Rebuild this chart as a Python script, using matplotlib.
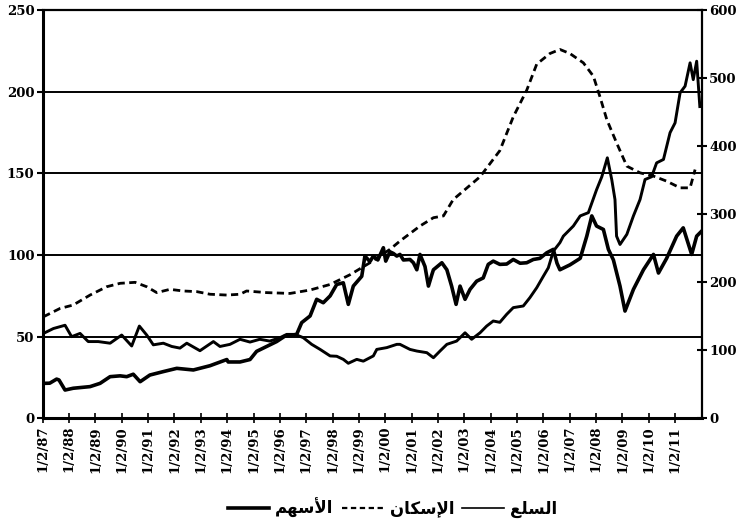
import matplotlib
matplotlib.use('Agg')
import matplotlib.pyplot as plt
from matplotlib.lines import Line2D
import numpy as np

### data (decimal years, left-axis units)
stocks_t = [1987.11, 1987.35, 1987.61, 1987.70, 1987.93, 1988.24, 1988.88, 1989.26, 1989.64, 1990.02,
            1990.27, 1990.52, 1990.78, 1991.15, 1991.66, 1992.17, 1992.80, 1993.43, 1994.07, 1994.12,
            1994.57, 1994.95, 1995.20, 1995.58, 1995.96, 1996.28, 1996.72, 1996.91, 1997.23, 1997.48,
            1997.73, 1997.99, 1998.24, 1998.49, 1998.68, 1998.87, 1999.19, 1999.31, 1999.50, 1999.63,
            1999.80, 2000.01, 2000.10, 2000.26, 2000.39, 2000.52, 2000.64, 2000.77, 2001.02, 2001.15,
            2001.28, 2001.40, 2001.59, 2001.72, 2001.85, 2001.91, 2002.23, 2002.42, 2002.60, 2002.77,
            2002.92, 2003.11, 2003.30, 2003.55, 2003.80, 2003.99, 2004.18, 2004.43, 2004.69, 2004.94,
            2005.20, 2005.45, 2005.70, 2005.95, 2006.21, 2006.46, 2006.60, 2006.71, 2006.90, 2007.09,
            2007.48, 2007.73, 2007.92, 2008.10, 2008.36, 2008.55, 2008.74, 2008.99, 2009.18, 2009.50,
            2009.88, 2010.26, 2010.45, 2010.76, 2011.14, 2011.39, 2011.71, 2011.90, 2012.09]
stocks = [21.4, 21.5, 24.0, 23.5, 17.3, 18.4, 19.4, 21.4, 25.5, 26.0,
          25.5, 27.0, 22.4, 26.5, 28.6, 30.6, 29.6, 32.2, 36.0, 34.5,
          34.5, 36.0, 41.0, 44.0, 47.0, 50.4, 51.4, 58.6, 62.7, 72.9,
          70.8, 75.0, 82.0, 83.0, 69.8, 81.0, 87.0, 99.4, 96.0, 99.4,
          97.0, 104.5, 96.3, 102.0, 101.0, 99.4, 100.4, 97.0, 97.3, 95.3,
          91.0, 100.4, 93.0, 81.0, 88.0, 91.0, 95.3, 91.0, 81.0, 69.8,
          81.0, 72.9, 79.0, 84.0, 86.0, 94.3, 96.3, 94.3, 94.5, 97.3,
          95.0, 95.3, 97.3, 98.0, 101.4, 103.5, 95.0, 91.0, 92.5, 94.0,
          98.0, 111.6, 124.0, 117.8, 115.7, 103.5, 97.0, 81.0, 65.7, 79.0,
          91.0, 100.4, 89.0, 98.0, 111.6, 116.7, 100.4, 111.6, 114.7]

commod_t = [1987.11, 1987.49, 1987.93, 1988.18, 1988.50, 1988.81, 1989.19, 1989.64, 1990.08, 1990.46,
            1990.75, 1991.03, 1991.28, 1991.66, 1991.98, 1992.29, 1992.55, 1993.05, 1993.56, 1993.81,
            1994.19, 1994.57, 1994.95, 1995.32, 1995.70, 1996.09, 1996.34, 1996.66, 1996.97, 1997.29,
            1997.61, 1997.99, 1998.24, 1998.49, 1998.68, 1999.00, 1999.25, 1999.63, 1999.76, 2000.14,
            2000.52, 2000.64, 2001.02, 2001.28, 2001.66, 2001.91, 2002.16, 2002.42, 2002.79, 2003.11,
            2003.36, 2003.68, 2003.93, 2004.18, 2004.43, 2004.69, 2004.94, 2005.32, 2005.57, 2005.83,
            2006.08, 2006.27, 2006.46, 2006.71, 2006.84, 2007.22, 2007.48, 2007.79, 2008.10, 2008.30,
            2008.51, 2008.68, 2008.80, 2008.86, 2008.99, 2009.25, 2009.50, 2009.75, 2009.94, 2010.19,
            2010.38, 2010.64, 2010.89, 2011.08, 2011.27, 2011.46, 2011.65, 2011.77, 2011.90, 2012.02]
commod = [52.0, 55.0, 57.0, 50.0, 52.0, 47.0, 47.0, 46.0, 51.0, 44.3,
          56.5, 51.0, 45.0, 46.0, 44.0, 43.0, 46.0, 41.4, 47.0, 44.0,
          45.3, 48.4, 46.7, 48.4, 47.3, 49.4, 51.4, 51.4, 49.4, 45.3,
          42.2, 38.2, 38.0, 36.1, 33.7, 36.1, 35.0, 38.2, 42.2, 43.3,
          45.3, 45.3, 42.2, 41.2, 40.2, 37.1, 41.2, 45.3, 47.3, 52.4,
          48.4, 52.4, 56.5, 59.6, 58.8, 63.7, 67.8, 68.8, 73.9, 80.0,
          87.0, 92.2, 102.4, 107.6, 111.6, 117.8, 124.0, 126.0, 140.0, 148.0,
          159.6, 146.0, 134.0, 111.6, 106.5, 112.7, 124.0, 134.0, 146.3, 148.0,
          156.5, 158.6, 175.0, 181.0, 199.4, 203.5, 217.8, 207.5, 218.8, 191.0]

housing_t = [1987.11, 1987.74, 1988.24, 1988.88, 1989.51, 1990.02, 1990.59, 1991.03, 1991.41, 1991.91,
             1992.42, 1992.93, 1993.43, 1994.07, 1994.57, 1994.82, 1995.58, 1996.47, 1997.23, 1997.99,
             1998.75, 1999.50, 2000.26, 2000.64, 2001.40, 2001.91, 2002.29, 2002.66, 2003.68, 2004.43,
             2004.94, 2005.45, 2005.83, 2006.33, 2006.71, 2007.09, 2007.60, 2007.98, 2008.23, 2008.49,
             2008.86, 2009.25, 2009.75, 2010.26, 2010.76, 2011.27, 2011.65, 2011.84]
housing = [62.2, 67.3, 69.4, 75.5, 80.6, 82.7, 83.3, 80.6, 77.0, 79.0,
           78.0, 77.6, 76.0, 75.5, 76.0, 78.0, 77.0, 76.5, 78.6, 82.0,
           88.0, 95.3, 103.5, 108.6, 117.8, 122.9, 124.0, 134.0, 148.0, 164.0,
           184.7, 201.0, 217.0, 223.5, 226.0, 223.5, 217.8, 209.6, 197.0, 183.0,
           168.8, 154.5, 150.4, 148.4, 145.3, 141.2, 141.2, 152.4]

tick_years = [1987.083 + k for k in range(25)]
tick_labels = ['1/2/%02d' % (y % 100) for y in range(1987, 2012)]

# legend labels (Arabic presentation forms, laid out left-to-right)
lbl_stocks = '\uFEE2\uFEEC\uFEB3\uFEF7\uFE8D'          # الأسهم
lbl_housing = '\uFEE5\uFE8E\uFEDC\uFEB3\uFEF9\uFE8D'   # الإسكان
lbl_commod = '\uFECA\uFEE0\uFEB4\uFEDF\uFE8D'          # السلع

fig = plt.figure(figsize=(7.39, 5.30), dpi=100)
ax = fig.add_axes([0.0578, 0.2108, 0.8917, 0.7698])

ax.plot(commod_t, commod, color='black', lw=2.1, solid_joinstyle='round')
ax.plot(stocks_t, stocks, color='black', lw=2.6, solid_joinstyle='round')
ax.plot(housing_t, housing, color='black', lw=2.0, ls=(0, (2.6, 1.6)))

ax.set_xlim(1987.083, 2012.09)
ax.set_ylim(0, 250)
ax.set_yticks([0, 50, 100, 150, 200, 250])
ax.yaxis.grid(True, color='black', lw=1.4)
ax.set_axisbelow(True)
ax.set_xticks(tick_years)
ax.set_xticklabels(tick_labels, rotation=90)

tickfont = dict(family='DejaVu Serif', weight='bold', size=9.5)
for t in ax.get_xticklabels() + ax.get_yticklabels():
    t.set_fontproperties(matplotlib.font_manager.FontProperties(**tickfont))
ax.tick_params(axis='y', direction='out', length=4, width=1.5, pad=2)
ax.tick_params(axis='x', direction='inout', length=7, width=1.2, pad=2)

ax.spines['left'].set_linewidth(2.2)
ax.spines['bottom'].set_linewidth(2.2)
ax.spines['top'].set_linewidth(1.6)
ax.spines['right'].set_linewidth(1.6)

ax2 = ax.twinx()
ax2.set_ylim(0, 600)
ax2.set_yticks(range(0, 700, 100))
for t in ax2.get_yticklabels():
    t.set_fontproperties(matplotlib.font_manager.FontProperties(**tickfont))
ax2.tick_params(axis='y', direction='inout', length=7, width=1.5, pad=2)
for s in ax2.spines.values():
    s.set_visible(False)

### legend at the bottom
handles = [Line2D([], [], color='black', lw=2.6),
           Line2D([], [], color='black', lw=1.6, ls=(0, (2.4, 1.6))),
           Line2D([], [], color='black', lw=1.2)]
fig.legend(handles, [lbl_stocks, lbl_housing, lbl_commod], ncol=3, frameon=False,
           loc='center', bbox_to_anchor=(0.531, 0.042),
           prop=dict(family='DejaVu Sans', weight='bold', size=12),
           handlelength=2.5, handletextpad=0.35, columnspacing=0.5)

fig.savefig('out.png', dpi=100)
